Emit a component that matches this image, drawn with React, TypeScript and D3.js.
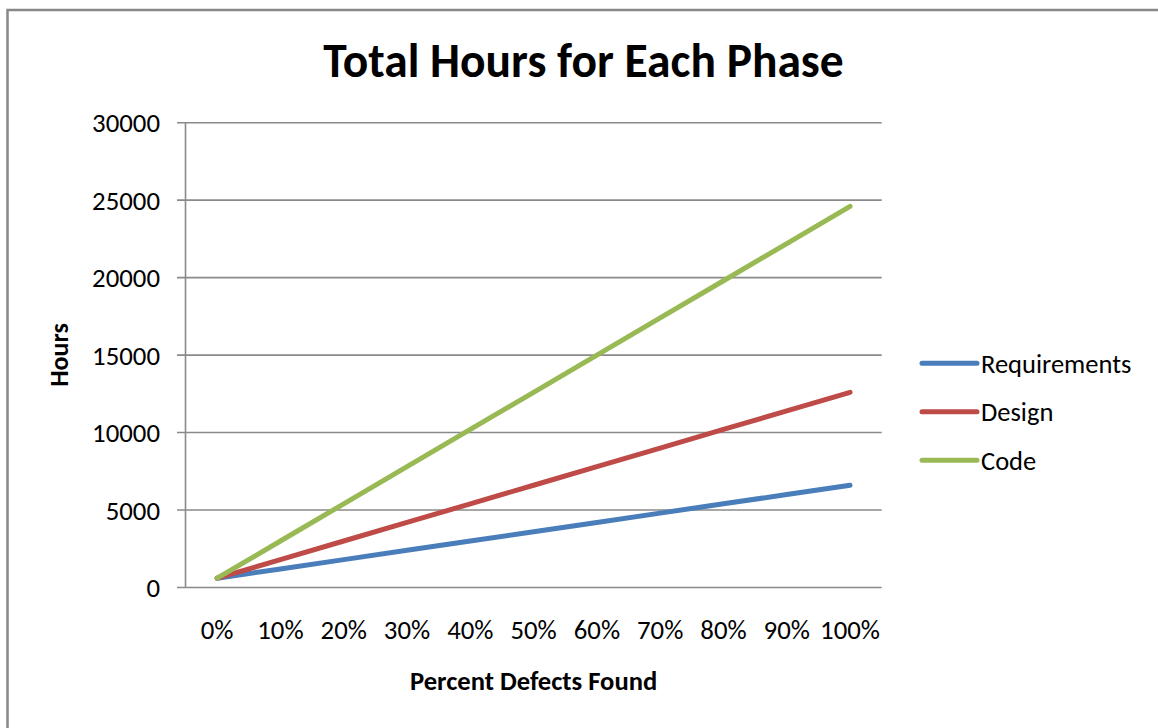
import React from "react";
import * as d3 from "d3";

const categories = ["0%", "10%", "20%", "30%", "40%", "50%", "60%", "70%", "80%", "90%", "100%"];
const requirements = [600, 1200, 1800, 2400, 3000, 3600, 4200, 4800, 5400, 6000, 6600];
const design = [600, 1800, 3000, 4200, 5400, 6600, 7800, 9000, 10200, 11400, 12600];
const code = [600, 3000, 5400, 7800, 10200, 12600, 15000, 17400, 19800, 22200, 24600];
const seriesNames = ["Requirements", "Design", "Code"];
const seriesColors = ["#4A7EBB", "#BE4B48", "#98B954"];
const yTicks = [0, 5000, 10000, 15000, 20000, 25000, 30000];

const W = 1158;
const H = 728;
const FONT = "Carlito, Calibri, Lato, 'Open Sans', sans-serif";

export default function App() {
  const left = 185.5, right = 881.7, top = 122.7, bottom = 587.5;
  const x = d3.scaleBand<string>().domain(categories).range([left, right]).padding(0);
  const y = d3.scaleLinear().domain([0, 30000]).range([bottom, top]);
  const cx = (c: string) => (x(c) as number) + x.bandwidth() / 2;
  const series = [requirements, design, code];
  const line = d3
    .line<number>()
    .x((_, i) => cx(categories[i]))
    .y((d) => y(d));

  return (
    <svg
      width={W}
      height={H}
      style={{ position: "fixed", left: 0, top: 0, background: "#fff" }}
      fontFamily={FONT}
    >
      <rect x={0} y={0} width={W} height={H} fill="#fff" />
      <rect x={7.5} y={10} width={W + 50} height={H + 50} fill="none" stroke="#888" strokeWidth={2.5} />
      <text x={583.5} y={77} textAnchor="middle" fontWeight="bold" fontSize={47.5} fill="#000">
        Total Hours for Each Phase
      </text>
      {yTicks.map((t) => (
        <g key={t}>
          <line x1={177} x2={right} y1={y(t)} y2={y(t)} stroke="#8a8a8a" strokeWidth={1.6} />
          <text x={160} y={y(t) + 9.5} textAnchor="end" fontSize={26.8} fill="#000">
            {t}
          </text>
        </g>
      ))}
      <line x1={left} x2={left} y1={top} y2={bottom} stroke="#8a8a8a" strokeWidth={1.6} />
      {categories.map((c) => (
        <text key={c} x={cx(c)} y={638.5} textAnchor="middle" fontSize={26.8} fill="#000">
          {c}
        </text>
      ))}
      <text x={(left + right) / 2} y={689.5} textAnchor="middle" fontWeight="bold" fontSize={26.6} fill="#000">
        Percent Defects Found
      </text>
      <text
        transform={`translate(68,355) rotate(-90)`}
        textAnchor="middle"
        fontWeight="bold"
        fontSize={26}
        fill="#000"
      >
        Hours
      </text>
      {series.map((s, i) => (
        <path
          key={seriesNames[i]}
          d={line(s) as string}
          fill="none"
          stroke={seriesColors[i]}
          strokeWidth={5}
          strokeLinecap="round"
          strokeLinejoin="round"
        />
      ))}
      {seriesNames.map((n, i) => {
        const ly = 363.3 + i * 48.5;
        return (
          <g key={n}>
            <line x1={922} x2={977} y1={ly} y2={ly} stroke={seriesColors[i]} strokeWidth={5} strokeLinecap="round" />
            <text x={981} y={ly + 9.5} fontSize={26.5} fill="#000">
              {n}
            </text>
          </g>
        );
      })}
    </svg>
  );
}
